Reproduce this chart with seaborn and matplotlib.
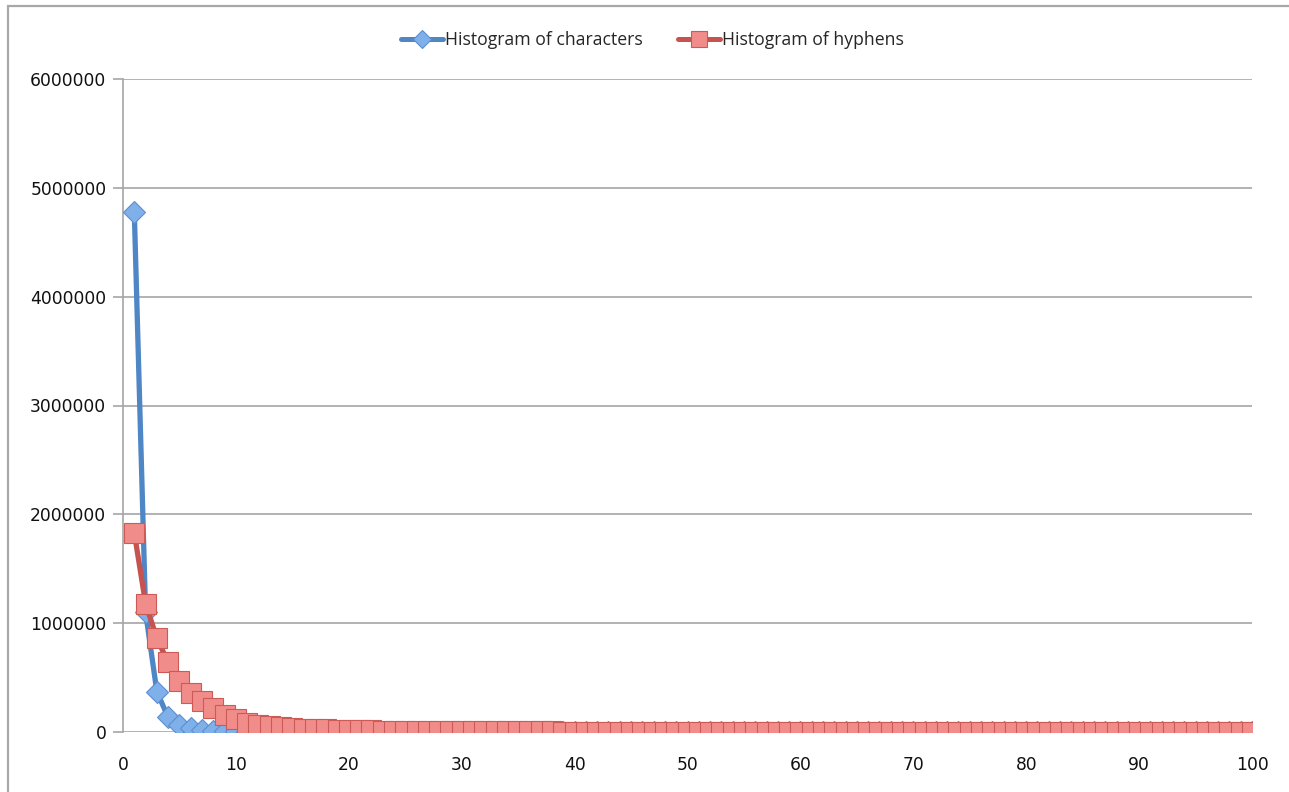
import numpy as np
import pandas as pd
import seaborn as sns
import matplotlib
matplotlib.use("Agg")
import matplotlib.pyplot as plt
from matplotlib.lines import Line2D
from matplotlib.patches import Rectangle
from matplotlib.ticker import FuncFormatter

# Run lengths 1..100
lengths = list(range(1, 101))

characters = [
    4780000, 1100000, 370000, 135000, 65000, 35000, 20000, 12000, 8000, 5500,
    4000, 3000, 2300, 1800, 1400, 1100, 900, 750, 620, 520,
    440, 380, 330, 290, 250, 220, 200, 180, 160, 145,
    130, 118, 107, 98, 90, 83, 77, 71, 66, 61,
    57, 53, 50, 47, 44, 41, 39, 37, 35, 33,
    31, 30, 28, 27, 26, 25, 24, 23, 22, 21,
    20, 19, 18, 17, 17, 16, 15, 15, 14, 14,
    13, 13, 12, 12, 11, 11, 10, 10, 10, 9,
    9, 9, 8, 8, 8, 7, 7, 7, 7, 6,
    6, 6, 6, 5, 5, 5, 5, 5, 4, 4,
]

hyphens = [
    1830000, 1180000, 860000, 640000, 465000, 355000, 285000, 220000, 160000, 115000,
    85000, 66000, 54000, 45000, 38000, 32000, 27000, 23000, 20000, 17500,
    15500, 13800, 12300, 11000, 10000, 9200, 8500, 7900, 7400, 6900,
    6500, 6100, 5800, 5500, 5200, 5000, 4800, 4600, 4400, 4250,
    4100, 3950, 3800, 3700, 3600, 3500, 3400, 3300, 3200, 3120,
    3040, 2970, 2900, 2830, 2770, 2710, 2650, 2600, 2550, 2500,
    2450, 2400, 2360, 2320, 2280, 2240, 2200, 2160, 2130, 2100,
    2070, 2040, 2010, 1980, 1950, 1920, 1900, 1880, 1850, 1830,
    1810, 1790, 1770, 1750, 1730, 1710, 1690, 1670, 1650, 1630,
    1610, 1600, 1580, 1560, 1550, 1530, 1520, 1500, 1490, 1480,
]

series_names = ["Histogram of characters", "Histogram of hyphens"]
x_ticks = [0, 10, 20, 30, 40, 50, 60, 70, 80, 90, 100]
y_ticks = [0, 1000000, 2000000, 3000000, 4000000, 5000000, 6000000]

sns.set_theme(style="white")
plt.rcParams["font.family"] = ["DejaVu Sans"]

fig = plt.figure(figsize=(12.89, 7.92), dpi=100)
ax = fig.add_axes([123 / 1289, 1 - 732 / 792, (1252 - 123) / 1289, (732 - 79) / 792])

blue_line = "#4f86c6"
blue_fill = "#7fb0ea"
blue_edge = "#5a8fd0"
red_line = "#c65350"
red_fill = "#f08c89"
red_edge = "#cc5a56"

df_c = pd.DataFrame({"length": lengths, "count": characters})
df_h = pd.DataFrame({"length": lengths, "count": hyphens})

sns.lineplot(data=df_c, x="length", y="count", ax=ax, color=blue_line, lw=3.8,
             marker="D", markersize=11.5, markerfacecolor=blue_fill,
             markeredgecolor=blue_edge, markeredgewidth=0.8, zorder=3)
sns.lineplot(data=df_h, x="length", y="count", ax=ax, color=red_line, lw=3.8,
             marker="s", markersize=14, markerfacecolor=red_fill,
             markeredgecolor=red_edge, markeredgewidth=0.8, zorder=4)

ax.set_xlim(0, 100)
ax.set_ylim(0, 6000000)
ax.set_xticks(x_ticks)
ax.set_yticks(y_ticks)
ax.yaxis.set_major_formatter(FuncFormatter(lambda v, p: f"{int(v)}"))
ax.set_xlabel("")
ax.set_ylabel("")

ax.grid(axis="y", color="#a6a6a6", lw=1.2)
ax.grid(axis="x", visible=False)
for side in ["top", "right", "bottom"]:
    ax.spines[side].set_visible(False)
ax.spines["left"].set_color("#a6a6a6")
ax.spines["left"].set_linewidth(1.2)
ax.set_axisbelow(True)

ax.tick_params(axis="y", direction="out", length=7, width=1.2, color="#a6a6a6",
               labelsize=12.3, labelcolor="#111111", pad=5, left=True)
ax.tick_params(axis="x", direction="out", length=0, labelsize=12.3,
               labelcolor="#111111", pad=17)

handles = [
    Line2D([], [], color=blue_line, lw=3.6, marker="D", markersize=9.5,
           markerfacecolor=blue_fill, markeredgecolor=blue_edge, markeredgewidth=0.8),
    Line2D([], [], color=red_line, lw=3.6, marker="s", markersize=11,
           markerfacecolor=red_fill, markeredgecolor=red_edge, markeredgewidth=0.8),
]
leg = fig.legend(handles, series_names, loc="center",
                 bbox_to_anchor=(0.5 + 8 / 1289, 1 - 40 / 792),
                 ncol=2, frameon=False, handlelength=2.4, handletextpad=0.1,
                 columnspacing=2.0, prop={"family": ["Open Sans", "DejaVu Sans"], "size": 12.7})

# outer chart frame (top and left edges visible)
fig.patches.append(Rectangle((8 / 1289, -0.05), 1.2, 1 - 6 / 792 + 0.05,
                             transform=fig.transFigure, fill=False,
                             edgecolor="#a8a8a8", lw=1.6, zorder=0))

fig.savefig("out.png", dpi=100)
